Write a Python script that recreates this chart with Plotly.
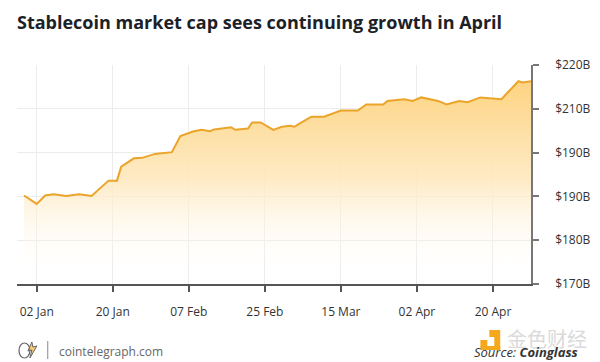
import plotly.graph_objects as go

dates = ["2022-12-30", "2023-01-02", "2023-01-04", "2023-01-06", "2023-01-09", "2023-01-12",
         "2023-01-15", "2023-01-19", "2023-01-21", "2023-01-22", "2023-01-25", "2023-01-27",
         "2023-01-30", "2023-02-03", "2023-02-05", "2023-02-08", "2023-02-10", "2023-02-12",
         "2023-02-13", "2023-02-17", "2023-02-18", "2023-02-21", "2023-02-22", "2023-02-24",
         "2023-02-27", "2023-03-01", "2023-03-03", "2023-03-04", "2023-03-05", "2023-03-08",
         "2023-03-11", "2023-03-15", "2023-03-19", "2023-03-21", "2023-03-25", "2023-03-26",
         "2023-03-30", "2023-04-01", "2023-04-03", "2023-04-07", "2023-04-09", "2023-04-12",
         "2023-04-14", "2023-04-17", "2023-04-22", "2023-04-26", "2023-04-27", "2023-04-29"]
market_cap = [190.2, 188.3, 190.2, 190.5, 190.1, 190.5,
              190.1, 193.6, 193.6, 196.8, 198.7, 198.8,
              199.7, 200.1, 203.8, 204.8, 205.2, 204.9,
              205.3, 205.8, 205.2, 205.5, 206.9, 206.9,
              205.2, 205.9, 206.1, 205.9, 206.5, 208.2,
              208.2, 209.6, 209.6, 211.0, 211.0, 211.8,
              212.2, 211.8, 212.6, 211.8, 211.0, 211.8,
              211.5, 212.6, 212.2, 216.3, 216.0, 216.3]

x_tick_vals = ["2023-01-02", "2023-01-20", "2023-02-07", "2023-02-25", "2023-03-15", "2023-04-02", "2023-04-20"]
x_tick_text = ["02 Jan", "20 Jan", "07 Feb", "25 Feb", "15 Mar", "02 Apr", "20 Apr"]
y_tick_vals = [170, 180, 190, 200, 210, 220]
y_tick_text = ["$170B", "$180B", "$190B", "$190B", "$210B", "$220B"]

# page body has an 8px margin: plot area on screen spans x 17..535, y 65..284
L, R, T, B = 17, 535, 65, 284
W, H = R - L, B - T


def px(x):
    return (x - L) / W


def py(y):
    return (B - y) / H


fig = go.Figure()
fig.add_trace(go.Scatter(
    x=dates, y=market_cap, mode="lines",
    line=dict(color="#EBA42A", width=2),
    fill="tozeroy",
    fillgradient=dict(type="vertical", start=172, stop=216,
                      colorscale=[[0, "rgba(255,255,255,0)"], [0.5, "rgba(254,232,190,0.9)"], [1, "rgba(253,212,130,1)"]]),
    hoverinfo="skip",
))

grid = "#ececec"
orange = "#F5A81C"
fig.update_layout(
    width=592, height=354,
    margin=dict(l=L - 8, r=592 - (R - 8), t=T - 8, b=354 - (B - 8)),
    paper_bgcolor="white", plot_bgcolor="white",
    showlegend=False,
    font=dict(family="Open Sans", color="#333333", size=12),
    title=dict(text="<b>Stablecoin market cap sees continuing growth in April</b>",
               x=px(17), xref="paper", xanchor="left", y=1 - (23 - 8) / 354, yanchor="middle",
               font=dict(family="Open Sans", size=18, color="#1b2127")),
    xaxis=dict(
        range=["2022-12-28 08:00", "2023-04-29"],
        tickvals=x_tick_vals, ticktext=x_tick_text,
        showgrid=True, gridcolor=grid, gridwidth=1,
        showline=True, linecolor="#555555", linewidth=1.5,
        ticks="outside", ticklen=6, tickcolor="#555555", tickwidth=1.5,
        ticklabelstandoff=10,
        tickfont=dict(size=12, color="#333333"),
        zeroline=False, fixedrange=True,
    ),
    yaxis=dict(
        range=[170, 220], side="right",
        tickvals=y_tick_vals, ticktext=y_tick_text,
        showgrid=True, gridcolor=grid, gridwidth=1,
        showline=True, linecolor="#777777", linewidth=1.5,
        ticks="outside", ticklen=6, tickcolor="#777777", tickwidth=1.5,
        ticklabelstandoff=14,
        tickfont=dict(size=12, color="#333333"),
        zeroline=False, fixedrange=True,
    ),
    shapes=[
        dict(type="line", xref="paper", yref="paper",
             x0=px(48), x1=px(48), y0=py(341), y1=py(359),
             line=dict(color="#888888", width=1)),
        dict(type="rect", xref="paper", yref="paper",
             x0=px(484), x1=px(491), y0=py(340), y1=py(347),
             fillcolor=orange, line=dict(width=0)),
        dict(type="rect", xref="paper", yref="paper",
             x0=px(493), x1=px(504), y0=py(330), y1=py(337),
             fillcolor=orange, line=dict(width=0)),
        dict(type="rect", xref="paper", yref="paper",
             x0=px(498), x1=px(504), y0=py(337), y1=py(350),
             fillcolor=orange, line=dict(width=0)),
        dict(type="rect", xref="paper", yref="paper",
             x0=px(484), x1=px(504), y0=py(346), y1=py(350),
             fillcolor=orange, line=dict(width=0)),
        dict(type="circle", xref="paper", yref="paper",
             x0=px(19), x1=px(30), y0=py(343), y1=py(358),
             fillcolor="rgba(0,0,0,0)", line=dict(color="#666666", width=1.2)),
        dict(type="path", xref="paper", yref="paper",
             path=f"M {px(32)},{py(342)} L {px(28)},{py(351)} L {px(32)},{py(350)} L {px(30)},{py(358)} L {px(37)},{py(346)} L {px(33)},{py(347)} Z",
             fillcolor="rgba(245,168,28,0.6)", line=dict(color="#666666", width=1)),
    ],
    annotations=[
        dict(text="cointelegraph.com", x=px(57), y=py(351), xref="paper", yref="paper",
             showarrow=False, xanchor="left", yanchor="middle",
             font=dict(size=12, color="#666666", family="Open Sans")),
        dict(text="金色财经", x=px(509), y=py(338), xref="paper", yref="paper",
             showarrow=False, xanchor="left", yanchor="middle",
             font=dict(size=20, color="#dadada", family="Noto Sans CJK SC")),
        dict(text="<i>Source: </i><b><i>Coinglass</i></b>", x=px(584), y=py(352),
             xref="paper", yref="paper", showarrow=False, xanchor="right", yanchor="middle",
             font=dict(size=13, color="#333333", family="Open Sans")),
    ],
)

fig.write_html("out.html")
